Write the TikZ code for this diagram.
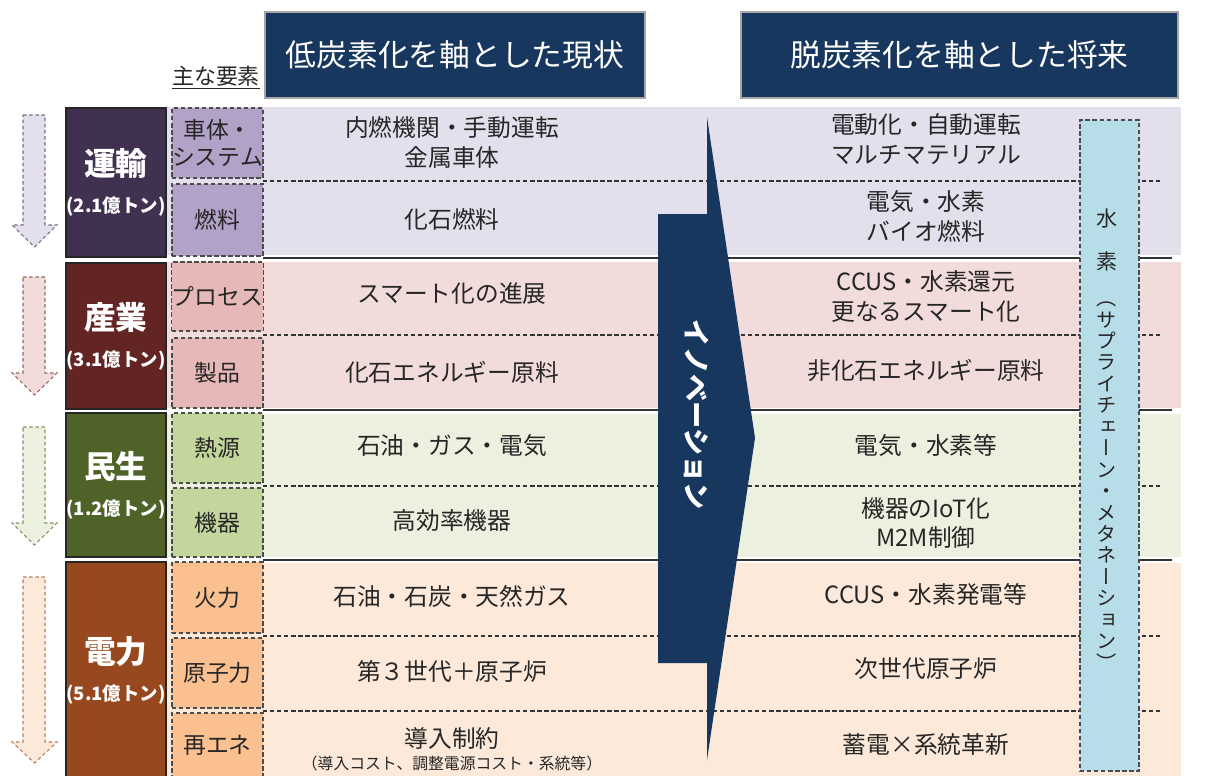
\documentclass[tikz,border=0pt]{standalone}
\usepackage{fontspec}
\setmainfont{Noto Sans CJK JP}
\newfontfamily\vertjp[RawFeature=+vert]{Noto Sans CJK JP}
\usepackage{tikz}
\definecolor{navy}{RGB}{23,55,94}
\definecolor{yusoD}{RGB}{64,49,81}
\definecolor{yusoE}{RGB}{179,162,199}
\definecolor{yusoB}{RGB}{228,223,236}
\definecolor{sangyoD}{RGB}{99,37,35}
\definecolor{sangyoE}{RGB}{230,185,184}
\definecolor{sangyoB}{RGB}{242,220,219}
\definecolor{minseiD}{RGB}{79,98,40}
\definecolor{minseiE}{RGB}{195,214,155}
\definecolor{minseiB}{RGB}{235,241,222}
\definecolor{denD}{RGB}{151,72,30}
\definecolor{denE}{RGB}{250,192,144}
\definecolor{denB}{RGB}{253,233,217}
\definecolor{h2blue}{RGB}{183,222,232}
\tikzset{every node/.append style={align=center, inner sep=0pt}}
\newcommand\tonlabel[1]{{\fontsize{10.5}{21}\selectfont(#1億トン)}}

\begin{document}
\begin{tikzpicture}[x=0.2mm, y=-0.2mm,
    font=\fontsize{13.5}{17}\selectfont, text=black!85,
    hd/.style={rectangle, draw=gray!70, fill=navy, text=white, line width=0.6pt,
        minimum height=17.2mm, font=\fontsize{17.5}{20}\selectfont},
    sec/.style={rectangle, draw=black!85, line width=0.6pt, text=white,
        minimum width=20mm, font=\bfseries\fontsize{18}{21}\selectfont},
    elm/.style={rectangle, draw=black!70, line width=0.6pt, dash pattern=on 2.5pt off 1.5pt,
        minimum width=18.2mm, font=\fontsize{13}{15}\selectfont},
    sep/.style={black!80, line width=0.8pt},
    sub/.style={black!80, line width=0.6pt, dash pattern=on 2.5pt off 1.5pt},
    dn/.style={line width=0.6pt, dash pattern=on 2pt off 1.5pt}
]
\useasboundingbox (0,0) rectangle (1209,776);
% bands
\fill[yusoB] (135,107) rectangle (1181,255);
\fill[sangyoB] (135,262) rectangle (1181,408);
\fill[minseiB] (135,414) rectangle (1181,557);
\fill[denB] (135,563) rectangle (1181,776);
\foreach \yy in {258,410,560} \draw[sep] (263,\yy) -- (1172,\yy);
\foreach \yy in {181,335,486,636,711} \draw[sub] (263,\yy) -- (1162,\yy);
% down arrows
\foreach \tp/\hs/\tip/\cc in {115/225/247/yuso, 277/373/395/sangyo, 427/523/545/minsei, 577/742/763/den}
  \draw[dn, fill=\cc B, draw=\cc D!70] (23,\tp) -- (45,\tp) -- (45,\hs) -- (57,\hs)
    -- (34.5,\tip) -- (12,\hs) -- (23,\hs) -- cycle;
\foreach \yy/\hh/\cc/\nm/\amt [count=\i] in {182.5/29.8/yuso/運輸/2.1, 336/29.2/sangyo/産業/3.1,
    485/28.8/minsei/民生/1.2, 670/43.2/den/電力/5.1}
  \node[sec, fill=\cc D, minimum height=\hh mm] (s\i) at (116,\yy) {\nm\\\tonlabel{\amt}};
\foreach \yy/\hh/\cc/\txt [count=\i] in {143/14/yuso/{車体・\\システム}, 220/14.4/yuso/燃料,
    296.5/13.8/sangyo/プロセス, 373/14/sangyo/製品, 448/14/minsei/熱源, 522.5/13.8/minsei/機器,
    597.5/14.2/den/火力, 673/14/den/原子力, 745.5/13/den/再エネ}
  \node[elm, fill=\cc E, minimum height=\hh mm] (e\i) at (217.5,\yy) {\txt};
\node[font=\fontsize{12.5}{15}\selectfont] (key) at (216,78) {\underline{主な要素}};
% now / future
\foreach \yy/\txt [count=\i] in {142.5/{内燃機関・手動運転\\金属車体}, 219/化石燃料,
    294/スマート化の進展, 372/化石エネルギー原料, 446/石油・ガス・電気, 521/高効率機器,
    596/石油・石炭・天然ガス, 671/第３世代＋原子炉}
  \node (n\i) at (452,\yy) {\txt};
\node (n9) at (452,749) {導入制約\\[-4.5pt]{\fontsize{9}{11}\selectfont （導入コスト、調整電源コスト・系統等）}};
\foreach \yy/\txt [count=\i] in {139.5/{電動化・自動運転\\マルチマテリアル}, 216.5/{電気・水素\\バイオ燃料},
    296.5/{CCUS・水素還元\\更なるスマート化}, 370/非化石エネルギー原料, 446/電気・水素等,
    523/{機器のIoT化\\M2M制御}, 594/CCUS・水素発電等, 669/次世代原子炉, 745/蓄電×系統革新}
  \node (f\i) at (926,\yy) {\txt};
% innovation arrow
\fill[navy] (658,214) -- (707,214) -- (707,117) -- (755,438) -- (707,760) -- (707,663)
  -- (658,663) -- cycle;
\node[rotate=-90, text=white, font=\bfseries\fontsize{15.5}{18}\selectfont] (inno) at (697,415) {イノベーション};
% hydrogen column
\node[rectangle, draw=black!70, fill=h2blue, line width=0.6pt, dash pattern=on 2.5pt off 1.5pt,
  minimum width=11.8mm, minimum height=130.2mm] (h2) at (1109.5,445.5) {};
\node[font=\fontsize{12}{25}\selectfont] (h2a) at (1107,240) {水\\素};
\node[font=\vertjp\fontsize{11.5}{12.2}\selectfont] (h2b) at (1107,486)
  {（\\サ\\プ\\ラ\\イ\\チ\\ェ\\ー\\ン\\・\\メ\\タ\\ネ\\ー\\シ\\ョ\\ン\\）};
\node[hd, minimum width=76mm] (now) at (455,55) {低炭素化を軸とした現状};
\node[hd, minimum width=87.4mm] (fut) at (959.5,55) {脱炭素化を軸とした将来};
\end{tikzpicture}
\end{document}
